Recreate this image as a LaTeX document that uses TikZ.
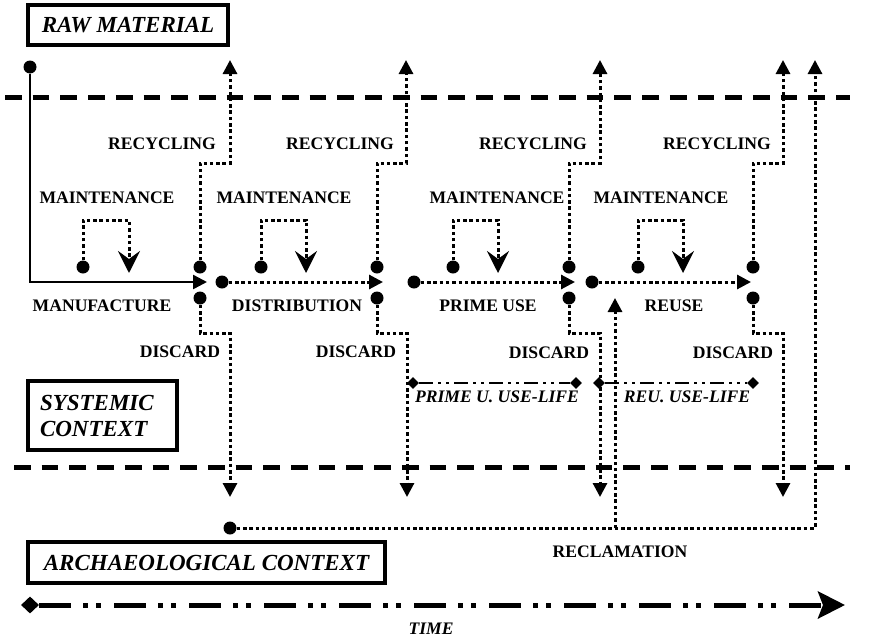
\documentclass[tikz,border=0pt]{standalone}
\usepackage{fontspec}
\setmainfont{Liberation Serif}
\usetikzlibrary{arrows.meta,shapes.geometric}
\begin{document}
\begin{tikzpicture}[x=1pt,y=-1pt,
 lbl/.style={font=\fontsize{17.6}{20}\selectfont\bfseries, inner sep=0},
 ilbl/.style={font=\fontsize{17.6}{20}\selectfont\bfseries\itshape, inner sep=0},
 boxlbl/.style={draw, line width=3.5pt, font=\fontsize{23}{26}\selectfont\bfseries\itshape, inner sep=0},
 dotn/.style={circle, fill, inner sep=0, minimum size=13pt},
 dia/.style={diamond, fill, inner sep=0, minimum width=12pt, minimum height=12pt},
 bigdia/.style={diamond, fill, inner sep=0, minimum width=18pt, minimum height=17pt},
 dotline/.style={line width=3pt, dash pattern=on 3.5pt off 2.8pt},
 solidline/.style={line width=2.5pt},
 tri/.style={-{Triangle[length=14pt,width=14pt]}},
 stl/.style={-{Stealth[length=22pt,width=22pt,inset=8pt]}},
 ctxline/.style={line width=5pt, dash pattern=on 16.7pt off 11pt},
 usel/.style={line width=2pt, dash pattern=on 14pt off 5pt on 3pt off 5pt on 3pt off 5pt},
 timel/.style={line width=5pt, dash pattern=on 32pt off 12pt on 5pt off 8pt on 5pt off 13pt, -{Stealth[length=27pt,width=27pt,inset=5pt]}}
]
\useasboundingbox (0,0) rectangle (870,640);

% context boundaries
\coordinate (topL) at (5,97);
\coordinate (topR) at (850,97);
\coordinate (botL) at (14,467);
\coordinate (botR) at (850,467);
\draw[ctxline] (topL) -- (topR);
\draw[ctxline] (botL) -- (botR);

% boxes
\node[boxlbl, minimum width=200pt, minimum height=40pt] (raw) at (128,25) {RAW MATERIAL};
\node[boxlbl, minimum width=149pt, minimum height=69pt, text width=125pt, align=left] (sys) at (102.5,415.5) {SYSTEMIC\\CONTEXT};
\node[boxlbl, minimum width=357pt, minimum height=41pt] (arch) at (206.5,562.5) {ARCHAEOLOGICAL CONTEXT};

% dots
\node[dotn] (s0) at (30,67) {};
\node[dotn] (t1) at (200,267) {};
\node[dotn] (b1) at (200,298) {};
\node[dotn] (t2) at (377,267) {};
\node[dotn] (b2) at (377,298) {};
\node[dotn] (t3) at (569,267) {};
\node[dotn] (b3) at (569,298) {};
\node[dotn] (t4) at (753,267) {};
\node[dotn] (b4) at (753,298) {};
\node[dotn] (d1) at (222,282) {};
\node[dotn] (p1) at (414,282) {};
\node[dotn] (r1) at (592,282) {};
\node[dotn] (m1) at (83,267) {};
\node[dotn] (m2) at (261,267) {};
\node[dotn] (m3) at (453,267) {};
\node[dotn] (m4) at (638,267) {};
\node[dotn] (rc) at (230,528) {};

% arrow end points
\coordinate (a1) at (207,282);
\coordinate (a2) at (383,282);
\coordinate (a3) at (575,282);
\coordinate (a4) at (751,282);

% main flow
\draw[solidline, tri] (s0) |- (a1);
\draw[dotline, tri] (d1) -- (a2);
\draw[dotline, tri] (p1) -- (a3);
\draw[dotline, tri] (r1) -- (a4);

% maintenance loops
\coordinate (mA1) at (129,220); \coordinate (mT1) at (129,273);
\coordinate (mA2) at (306,220); \coordinate (mT2) at (306,273);
\coordinate (mA3) at (498,220); \coordinate (mT3) at (498,273);
\coordinate (mA4) at (683,220); \coordinate (mT4) at (683,273);
\draw[dotline, stl] (m1) |- (mA1) -- (mT1);
\draw[dotline, stl] (m2) |- (mA2) -- (mT2);
\draw[dotline, stl] (m3) |- (mA3) -- (mT3);
\draw[dotline, stl] (m4) |- (mA4) -- (mT4);

% recycling
\coordinate (rA1) at (230,163); \coordinate (rT1) at (230,60);
\coordinate (rA2) at (406,163); \coordinate (rT2) at (406,60);
\coordinate (rA3) at (600,163); \coordinate (rT3) at (600,60);
\coordinate (rA4) at (783,163); \coordinate (rT4) at (783,60);
\draw[dotline, tri] (t1) |- (rA1) -- (rT1);
\draw[dotline, tri] (t2) |- (rA2) -- (rT2);
\draw[dotline, tri] (t3) |- (rA3) -- (rT3);
\draw[dotline, tri] (t4) |- (rA4) -- (rT4);

% discard
\coordinate (dA1) at (230,333); \coordinate (dT1) at (230,497);
\coordinate (dA2) at (407,333); \coordinate (dT2) at (407,497);
\coordinate (dA3) at (600,333); \coordinate (dT3) at (600,497);
\coordinate (dA4) at (783,333); \coordinate (dT4) at (783,497);
\draw[dotline, tri] (b1) |- (dA1) -- (dT1);
\draw[dotline, tri] (b2) |- (dA2) -- (dT2);
\draw[dotline, tri] (b3) |- (dA3) -- (dT3);
\draw[dotline, tri] (b4) |- (dA4) -- (dT4);

% reclamation
\coordinate (rcA) at (815,528); \coordinate (rcT) at (815,60);
\coordinate (rcB) at (615,528); \coordinate (rcBT) at (615,298);
\draw[dotline, tri] (rc) -- (rcA) -- (rcT);
\draw[dotline, tri] (rcB) -- (rcBT);

% use-life spans
\node[dia] (ul1) at (413,383) {};
\node[dia] (ul2) at (576,383) {};
\node[dia] (ul3) at (599,383) {};
\node[dia] (ul4) at (753,383) {};
\draw[usel] (ul1) -- (ul2);
\draw[usel] (ul3) -- (ul4);

% time
\node[bigdia] (td) at (30,605) {};
\coordinate (tend) at (845,605);
\draw[timel] (td) -- (tend);

% labels
\node[lbl] (rec1) at (162,144) {RECYCLING};
\node[lbl] (rec2) at (340,144) {RECYCLING};
\node[lbl] (rec3) at (533,144) {RECYCLING};
\node[lbl] (rec4) at (717,144) {RECYCLING};
\node[lbl] (mt1) at (107,198) {MAINTENANCE};
\node[lbl] (mt2) at (284,198) {MAINTENANCE};
\node[lbl] (mt3) at (497,198) {MAINTENANCE};
\node[lbl] (mt4) at (661,198) {MAINTENANCE};
\node[lbl] (man) at (102,306) {MANUFACTURE};
\node[lbl] (dis) at (297,306) {DISTRIBUTION};
\node[lbl] (pri) at (488,306) {PRIME USE};
\node[lbl] (reu) at (674,306) {REUSE};
\node[lbl] (dc1) at (180,352) {DISCARD};
\node[lbl] (dc2) at (356,352) {DISCARD};
\node[lbl] (dc3) at (549,353) {DISCARD};
\node[lbl] (dc4) at (733,353) {DISCARD};
\node[ilbl] (pul) at (497,397) {PRIME U. USE-LIFE};
\node[ilbl] (rul) at (687,397) {REU. USE-LIFE};
\node[lbl] (recl) at (620,552) {RECLAMATION};
\node[ilbl] (time) at (431,629) {TIME};
\end{tikzpicture}
\end{document}
